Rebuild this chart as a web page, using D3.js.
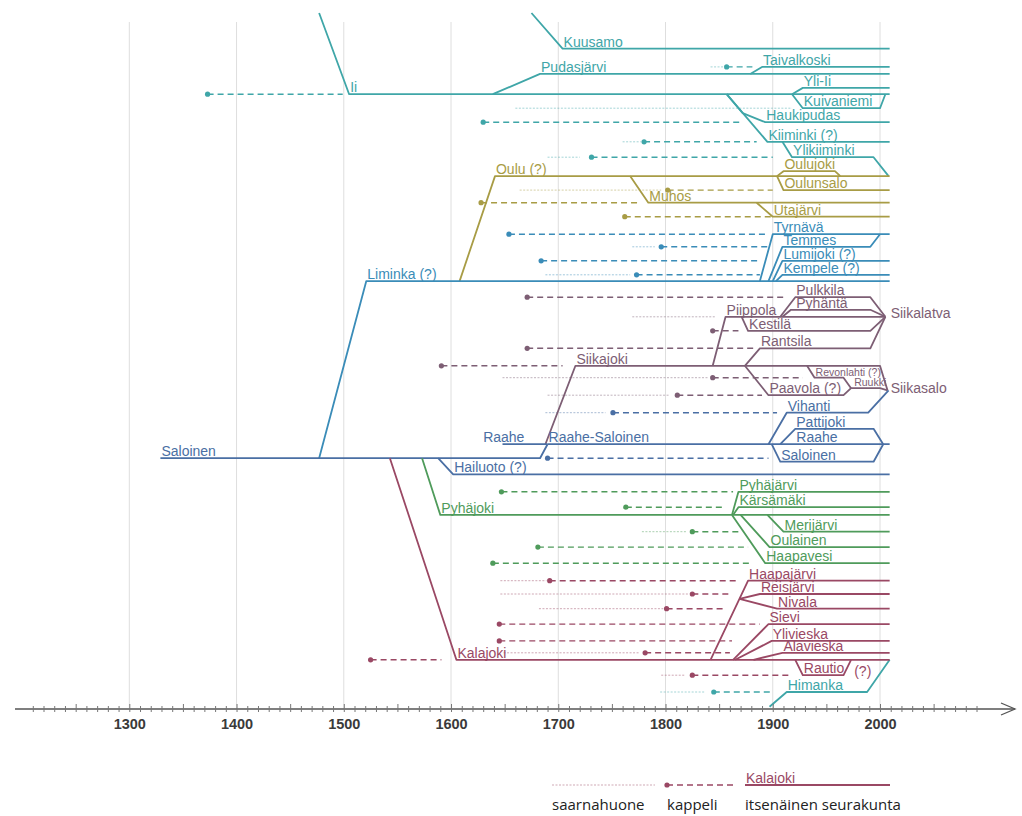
<!DOCTYPE html>
<html>
<head>
<meta charset="utf-8">
<script src="https://cdn.jsdelivr.net/npm/d3@7"></script>
<style>
  body { margin: 0; background: #fff; }
  svg { display: block; }
</style>
</head>
<body>
<svg id="chart" width="1022" height="816"></svg>
<script>
// year where every parish line still running stops (today)
const END = 2009;

const centuries = [1300, 1400, 1500, 1600, 1700, 1800, 1900, 2000];
const tickYears = d3.range(1210, 2091, 10);
const groupNames = ["Ii", "Oulu", "Liminka", "Siikajoki", "Saloinen", "Pyhäjoki", "Kalajoki"];

// parish lines: [name, [[year, lane], ...], optional label point [year, lane]]
// lane = vertical row (0 = top of chart, 100 = bottom)
const iiParishes = [
  ["Ii", [[1477, 0], [1505, 11.6], [END, 11.6]]],
  ["Kuusamo", [[1675, 0], [1704, 5.1], [END, 5.1]]],
  ["Pudasjärvi", [[1639, 11.6], [1683, 8.7], [END, 8.7]]],
  ["Taivalkoski", [[1879, 8.7], [1890, 7.7], [END, 7.7]]],
  ["Yli-Ii", [[1918, 11.6], [1928, 10.7], [END, 10.7]]],
  ["Kuivaniemi", [[1918, 11.6], [1928, 13.6], [2000, 13.6], [2005, 11.6]]],
  ["Haukipudas", [[1857, 11.6], [1872, 14.3], [1893, 15.6], [END, 15.6]], [1893, 15.6]],
  ["Kiiminki (?)", [[1857, 11.6], [1895, 18.4], [END, 18.4]]],
  ["Ylikiiminki", [[1909, 18.4], [1918, 20.6], [1994, 20.6], [2008, 23.3]]],
  ["Himanka", [[1897, 99.1], [1913, 97], [1988, 97], [END, 92.4]]]
];
const ouluParishes = [
  ["Oulu (?)", [[1608, 38.3], [1641, 23.3], [END, 23.3]]],
  ["Oulujoki", [[1904, 23.3], [1910, 22.6], [1958, 22.6], [1963, 23.3]]],
  ["Oulunsalo", [[1904, 23.3], [1910, 25.3], [END, 25.3]]],
  ["Muhos", [[1767, 23.3], [1784, 27.1], [END, 27.1]]],
  ["Utajärvi", [[1885, 27.1], [1900, 29.1], [END, 29.1]]]
];
const liminkaParishes = [
  ["Liminka (?)", [[1477, 63.6], [1521, 38.3], [END, 38.3]]],
  ["Tyrnävä", [[1888, 38.3], [1900, 31.6], [END, 31.6]]],
  ["Temmes", [[1896, 38.3], [1909, 33.4], [1991, 33.4], [2000, 31.6]]],
  ["Lumijoki (?)", [[1900, 38.3], [1909, 35.4], [END, 35.4]]],
  ["Kempele (?)", [[1903, 38.3], [1909, 37.4], [END, 37.4]]]
];
const siikajokiParishes = [
  ["Siikajoki", [[1688, 61.6], [1716, 50.4], [2000, 50.4], [2007, 53.9]]],
  ["Piippola", [[1844, 50.4], [1856, 43.4], [2005, 43.4]]],
  ["Pulkkila", [[1907, 43.4], [1921, 40.6], [1991, 40.6], [2005, 43.4]]],
  ["Pyhäntä", [[1909, 43.4], [1917, 42.4], [1991, 42.4], [2005, 43.4]], [1921, 42.4]],
  ["Kestilä", [[1871, 43.4], [1877, 45.4], [1991, 45.4], [2005, 43.4]]],
  ["Rantsila", [[1874, 50.4], [1888, 47.9], [1991, 47.9], [2005, 43.4]]],
  ["Revonlahti (?)", [[1932, 50.4], [1939, 52.1], [1966, 52.1], [1973, 53.6]]],
  ["Paavola (?)", [[1874, 50.4], [1896, 54.6], [1966, 54.6], [1973, 53.6]]],
  ["Ruukki", [[1973, 53.6], [2000, 53.6], [2007, 53.9]], [1975, 53.6]]
];
const saloinenParishes = [
  ["Saloinen", [[1329, 63.6], [1683, 63.6], [1690, 61.6]], [1329, 63.6]],
  ["Raahe", [[1648, 61.6], [1690, 61.6]], [1629, 61.6]],
  ["Raahe-Saloinen", [[1690, 61.6], [END, 61.6]], [1690, 61.6]],
  ["Vihanti", [[1896, 61.6], [1913, 57.1], [1989, 57.1], [2008, 53.9]]],
  ["Pattijoki", [[1907, 61.6], [1921, 59.4], [1994, 59.4], [2003, 61.6]]],
  ["Saloinen", [[1899, 61.6], [1907, 64.1], [1994, 64.1], [2003, 61.6]]],
  ["Hailuoto (?)", [[1588, 63.6], [1602, 65.9], [END, 65.9]]]
];
const pyhajokiParishes = [
  ["Pyhäjoki", [[1573, 63.6], [1590, 71.7], [END, 71.7]]],
  ["Pyhäjärvi", [[1862, 71.7], [1868, 68.4], [END, 68.4]]],
  ["Kärsämäki", [[1863, 71.7], [1868, 70.6], [END, 70.6]]],
  ["Merijärvi", [[1895, 71.7], [1910, 74.1], [END, 74.1]]],
  ["Oulainen", [[1870, 71.7], [1897, 76.3], [END, 76.3]]],
  ["Haapavesi", [[1862, 71.7], [1893, 78.6], [END, 78.6]]]
];
const kalajokiParishes = [
  ["Kalajoki", [[1543, 63.6], [1605, 92.4], [END, 92.4]]],
  ["Haapajärvi", [[1842, 92.4], [1877, 81.1], [END, 81.1]]],
  ["Reisjärvi", [[1869, 83.7], [1888, 83], [END, 83]]],
  ["Nivala", [[1869, 83.7], [1904, 85.1], [END, 85.1]]],
  ["Sievi", [[1863, 92.4], [1896, 87.3], [END, 87.3]]],
  ["Ylivieska", [[1865, 92.4], [1899, 89.7], [END, 89.7]]],
  ["Alavieska", [[1882, 92.4], [1909, 91.4], [END, 91.4]]],
  ["Rautio", [[1921, 92.4], [1928, 94.6], [1966, 94.6], [1973, 92.4]]]
];

// labels without a line of their own: [text, group, year, lane]
const extraLabels = [
  ["Raahe", "Saloinen", 1921, 61.6],
  ["Siikalatva", "Siikajoki", 2009, 43.4],
  ["Siikasalo", "Siikajoki", 2009, 54.1],
  ["(?)", "Kalajoki", 1975, 94.6]
];
const smallLabels = ["Revonlahti (?)", "Ruukki"];

// kappeli (chapel): [group, lane, from, to]
const kappelit = [
  ["Ii", 11.6, 1373, 1499], ["Ii", 7.7, 1857, 1881], ["Ii", 15.6, 1630, 1872],
  ["Ii", 18.4, 1780, 1885], ["Ii", 20.6, 1731, 1900], ["Ii", 97, 1845, 1900],
  ["Oulu", 25.3, 1802, 1900], ["Oulu", 27.1, 1628, 1775], ["Oulu", 29.1, 1762, 1900],
  ["Liminka", 31.6, 1654, 1895], ["Liminka", 33.4, 1796, 1895],
  ["Liminka", 35.4, 1684, 1888], ["Liminka", 37.4, 1773, 1888],
  ["Siikajoki", 40.6, 1671, 1911], ["Siikajoki", 45.4, 1844, 1868],
  ["Siikajoki", 47.9, 1671, 1882], ["Siikajoki", 50.4, 1591, 1704],
  ["Siikajoki", 52.1, 1844, 1928], ["Siikajoki", 54.6, 1811, 1890],
  ["Saloinen", 57.1, 1751, 1904], ["Saloinen", 63.6, 1690, 1896],
  ["Pyhäjoki", 68.4, 1647, 1863], ["Pyhäjoki", 70.6, 1763, 1853],
  ["Pyhäjoki", 74.1, 1825, 1868], ["Pyhäjoki", 76.3, 1681, 1877],
  ["Pyhäjoki", 78.6, 1639, 1881],
  ["Kalajoki", 92.4, 1525, 1591], ["Kalajoki", 81.1, 1692, 1867],
  ["Kalajoki", 83, 1825, 1862], ["Kalajoki", 85.1, 1801, 1855],
  ["Kalajoki", 87.3, 1645, 1888], ["Kalajoki", 89.7, 1645, 1862],
  ["Kalajoki", 91.4, 1781, 1860], ["Kalajoki", 94.6, 1825, 1915]
];

// saarnahuone (prayer house): [group, lane, from, to]
const saarnahuoneet = [
  ["Ii", 7.7, 1842, 1855], ["Ii", 13.6, 1660, 1918], ["Ii", 18.4, 1760, 1777],
  ["Ii", 20.6, 1690, 1720], ["Ii", 97, 1795, 1837],
  ["Oulu", 25.3, 1664, 1796],
  ["Liminka", 33.4, 1769, 1790], ["Liminka", 37.4, 1688, 1767],
  ["Siikajoki", 43.4, 1769, 1846], ["Siikajoki", 52.1, 1648, 1840],
  ["Siikajoki", 54.6, 1690, 1804],
  ["Saloinen", 57.1, 1688, 1744],
  ["Pyhäjoki", 74.1, 1778, 1820],
  ["Kalajoki", 81.1, 1646, 1689], ["Kalajoki", 83, 1646, 1821],
  ["Kalajoki", 85.1, 1682, 1798], ["Kalajoki", 91.4, 1649, 1776],
  ["Kalajoki", 94.6, 1796, 1818]
];

const legendLabels = ["saarnahuone", "kappeli", "itsenäinen seurakunta"];

const parishGroups = [
  ["Ii", iiParishes], ["Oulu", ouluParishes], ["Liminka", liminkaParishes],
  ["Siikajoki", siikajokiParishes], ["Saloinen", saloinenParishes],
  ["Pyhäjoki", pyhajokiParishes], ["Kalajoki", kalajokiParishes]
];

const color = d3.scaleOrdinal()
  .domain(groupNames)
  .range(["#3fa6a8", "#a89c45", "#3a8cb8", "#7d5e74", "#4a6fa4", "#4f9b5b", "#9a4864"]);

const x = d3.scaleLinear().domain([1300, 2000]).range([129.3, 880]);
const y = d3.scaleLinear().domain([0, 100]).range([13, 713]);
const line = d3.line().x(d => x(d[0])).y(d => y(d[1]));
const axisY = 709;
const labelFont = "'Liberation Sans', Arial, sans-serif";

const svg = d3.select("#chart");

// century gridlines
svg.append("g").selectAll("line")
  .data(centuries)
  .join("line")
  .attr("x1", d => x(d)).attr("x2", d => x(d))
  .attr("y1", 22).attr("y2", axisY)
  .attr("stroke", "#dedede").attr("stroke-width", 1);

// saarnahuone lines
svg.append("g").selectAll("line")
  .data(saarnahuoneet)
  .join("line")
  .attr("x1", d => x(d[2])).attr("x2", d => x(d[3]))
  .attr("y1", d => y(d[1])).attr("y2", d => y(d[1]))
  .attr("stroke", d => color(d[0]))
  .attr("stroke-width", 0.8)
  .attr("stroke-opacity", 0.6)
  .attr("stroke-dasharray", "2,1.5");

// kappeli lines + dots
const kap = svg.append("g");
kap.selectAll("line")
  .data(kappelit)
  .join("line")
  .attr("x1", d => x(d[2])).attr("x2", d => x(d[3]))
  .attr("y1", d => y(d[1])).attr("y2", d => y(d[1]))
  .attr("stroke", d => color(d[0]))
  .attr("stroke-width", 1.4)
  .attr("stroke-dasharray", "6,4");
kap.selectAll("circle")
  .data(kappelit)
  .join("circle")
  .attr("cx", d => x(d[2])).attr("cy", d => y(d[1]))
  .attr("r", 2.6)
  .attr("fill", d => color(d[0]));

// parish lines and labels
parishGroups.forEach(([g, list]) => {
  const gg = svg.append("g");
  gg.selectAll("path")
    .data(list)
    .join("path")
    .attr("d", d => line(d[1]))
    .attr("fill", "none")
    .attr("stroke", color(g))
    .attr("stroke-width", 1.8)
    .attr("stroke-linejoin", "round");
  gg.selectAll("text")
    .data(list)
    .join("text")
    .attr("x", d => x((d[2] || d[1][1])[0]) + 1)
    .attr("y", d => y((d[2] || d[1][1])[1]) - 2)
    .attr("fill", color(g))
    .style("font-family", labelFont)
    .style("font-size", d => smallLabels.includes(d[0]) ? "10.5px" : "14px")
    .text(d => d[0]);
});

svg.append("g").selectAll("text")
  .data(extraLabels)
  .join("text")
  .attr("x", d => x(d[2]) + 1)
  .attr("y", d => y(d[3]) - (d[0] === "Raahe" ? 2 : -1))
  .attr("fill", d => color(d[1]))
  .style("font-family", labelFont)
  .style("font-size", "14px")
  .text(d => d[0]);

// time axis
const axisG = svg.append("g").attr("transform", `translate(0,${axisY})`);
axisG.append("line")
  .attr("x1", 15).attr("x2", 1015)
  .attr("stroke", "#555").attr("stroke-width", 1.5);
axisG.append("path")
  .attr("d", "M1001,-6L1015,0L1001,6")
  .attr("fill", "none").attr("stroke", "#555").attr("stroke-width", 1.3);

const minor = axisG.append("g")
  .call(d3.axisBottom(x).tickValues(tickYears).tickFormat("").tickSize(3));
minor.select(".domain").remove();
minor.selectAll(".tick line")
  .attr("y1", d => d % 50 === 0 ? -5 : -3)
  .attr("y2", 3)
  .attr("stroke", "#777");

const major = axisG.append("g")
  .call(d3.axisBottom(x).tickValues(centuries).tickFormat(d3.format("d")).tickSize(0).tickPadding(10));
major.select(".domain").remove();
major.selectAll("text")
  .attr("fill", "#3a3a3a")
  .style("font-family", "'Liberation Sans', Arial, sans-serif")
  .style("font-weight", "bold")
  .style("font-size", "14.5px");

// legend
const lg = svg.append("g").attr("transform", "translate(0,785)");
const legendColor = color("Kalajoki");
lg.append("line")
  .attr("x1", 552).attr("x2", 655)
  .attr("stroke", legendColor).attr("stroke-width", 0.8)
  .attr("stroke-opacity", 0.6).attr("stroke-dasharray", "2,1.5");
lg.append("line")
  .attr("x1", 667).attr("x2", 737)
  .attr("stroke", legendColor).attr("stroke-width", 1.4)
  .attr("stroke-dasharray", "6,4");
lg.append("circle").attr("cx", 667).attr("r", 2.6).attr("fill", legendColor);
lg.append("line")
  .attr("x1", 745).attr("x2", 890)
  .attr("stroke", legendColor).attr("stroke-width", 1.8);
lg.append("text")
  .attr("x", 746).attr("y", -2)
  .attr("fill", legendColor)
  .style("font-family", labelFont).style("font-size", "14px")
  .text("Kalajoki");
lg.selectAll("text.key")
  .data(legendLabels)
  .join("text")
  .attr("class", "key")
  .attr("x", (d, i) => [552, 667, 745][i])
  .attr("y", 25)
  .attr("fill", "#222")
  .style("font-family", "'Open Sans', sans-serif")
  .style("font-size", "15px")
  .text(d => d);
</script>
</body>
</html>
